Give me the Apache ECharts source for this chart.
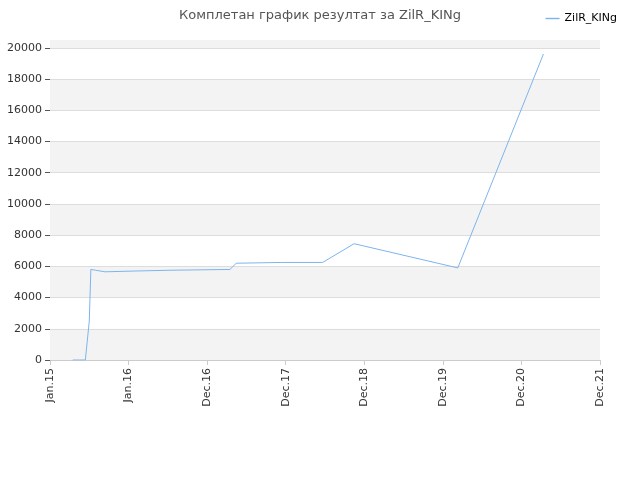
<!DOCTYPE html><html><head><meta charset="utf-8"><script src="https://cdn.jsdelivr.net/npm/echarts@6/dist/echarts.min.js"></script></head><body style="margin:0"><div id="c" style="width:640px;height:480px"></div><script>
const xLabels=['Jan.15','Jan.16','Dec.16','Dec.17','Dec.18','Dec.19','Dec.20','Dec.21'];
const xs=[0.29,0.45,0.5,0.52,0.58,0.70,1.08,1.53,2.29,2.37,2.95,3.47,3.87,5.19,6.28];
const ys=[0,0,2500,5800,5750,5650,5700,5750,5800,6200,6250,6250,7450,5900,19600];
const seriesName='ZilR_KINg';
const ch=echarts.init(document.getElementById('c'));
ch.setOption({
title:{text:'Комплетан график резултат за ZilR_KINg',left:'center',top:4,textStyle:{fontSize:13,fontWeight:'normal',color:'#555',fontFamily:'DejaVu Sans'}},
legend:{right:18,top:8,itemWidth:14,textStyle:{fontSize:11,color:'#000',fontFamily:'DejaVu Sans'},icon:'path://M0,0H10V1H0Z'},
grid:{left:50,right:40,top:40,bottom:120},
xAxis:{type:'value',min:0,max:7,interval:1,axisLine:{lineStyle:{color:'#ccc'}},axisTick:{show:true,lineStyle:{color:'#ccc'}},splitLine:{show:false},
axisLabel:{rotate:90,fontSize:11,color:'#333',fontFamily:'DejaVu Sans',formatter:v=>xLabels[Math.round(v)]}},
yAxis:{type:'value',min:0,max:20500,interval:2000,axisLine:{show:false},axisLabel:{fontSize:11,color:'#333',fontFamily:'DejaVu Sans',formatter:v=>String(v)},
splitLine:{lineStyle:{color:'#ddd'}},splitArea:{show:true,areaStyle:{color:['#f3f3f3','#fff']}}},
series:[{name:seriesName,type:'line',showSymbol:false,data:xs.map((x,i)=>[x,ys[i]]),lineStyle:{width:1,color:'#7cb5ec'},itemStyle:{color:'#7cb5ec'},
markArea:{silent:true,itemStyle:{color:'#f3f3f3'},data:[[{yAxis:20000},{yAxis:20500}]]}}]
});
</script></body></html>
